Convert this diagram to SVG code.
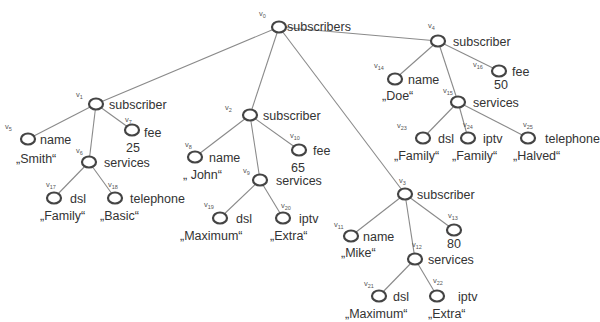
<svg xmlns="http://www.w3.org/2000/svg" width="600" height="322" viewBox="0 0 600 322">
<style>
.e{stroke:#8a8a8a;stroke-width:1.1;fill:none}
.n{fill:#fff;stroke:#444;stroke-width:2.2}
.t{font-family:"Liberation Sans",Arial,sans-serif;font-size:12.5px;fill:#333}
.v{font-family:"Liberation Sans",Arial,sans-serif;font-size:7.5px;fill:#555}
.s{font-size:5.5px}
</style>
<rect width="600" height="322" fill="#fff"/>
<g id="connectors">
<line class="e" x1="279" y1="27" x2="96" y2="104"/>
<line class="e" x1="279" y1="27" x2="250" y2="115"/>
<line class="e" x1="279" y1="27" x2="405" y2="194"/>
<line class="e" x1="279" y1="27" x2="438" y2="41"/>
<line class="e" x1="96" y1="104" x2="28" y2="139"/>
<line class="e" x1="96" y1="104" x2="89" y2="162"/>
<line class="e" x1="96" y1="104" x2="132" y2="130"/>
<line class="e" x1="89" y1="162" x2="54" y2="198"/>
<line class="e" x1="89" y1="162" x2="115" y2="198"/>
<line class="e" x1="250" y1="115" x2="195" y2="157"/>
<line class="e" x1="250" y1="115" x2="260" y2="180"/>
<line class="e" x1="250" y1="115" x2="299" y2="150"/>
<line class="e" x1="260" y1="180" x2="220" y2="218"/>
<line class="e" x1="260" y1="180" x2="283" y2="218"/>
<line class="e" x1="405" y1="194" x2="351" y2="236"/>
<line class="e" x1="405" y1="194" x2="415" y2="259"/>
<line class="e" x1="405" y1="194" x2="454" y2="230"/>
<line class="e" x1="415" y1="259" x2="379" y2="296"/>
<line class="e" x1="415" y1="259" x2="437" y2="296"/>
<line class="e" x1="438" y1="41" x2="395" y2="79"/>
<line class="e" x1="438" y1="41" x2="458" y2="102"/>
<line class="e" x1="438" y1="41" x2="499" y2="71"/>
<line class="e" x1="458" y1="102" x2="423" y2="138"/>
<line class="e" x1="458" y1="102" x2="468" y2="138"/>
<line class="e" x1="458" y1="102" x2="528" y2="138"/>
</g>
<g id="v0"><ellipse class="n" cx="279" cy="27" rx="7" ry="5.5"/><text class="v" x="259" y="16">v<tspan class="s" dy="2">0</tspan></text><text class="t" x="287" y="31">subscribers</text></g>
<g id="v1"><ellipse class="n" cx="96" cy="104" rx="7" ry="5.5"/><text class="v" x="76" y="97">v<tspan class="s" dy="2">1</tspan></text><text class="t" x="109" y="109">subscriber</text></g>
<g id="v2"><ellipse class="n" cx="250" cy="115" rx="7" ry="5.5"/><text class="v" x="225" y="110">v<tspan class="s" dy="2">2</tspan></text><text class="t" x="263" y="120">subscriber</text></g>
<g id="v3"><ellipse class="n" cx="405" cy="194" rx="7" ry="5.5"/><text class="v" x="399" y="183">v<tspan class="s" dy="2">3</tspan></text><text class="t" x="417" y="199">subscriber</text></g>
<g id="v4"><ellipse class="n" cx="438" cy="41" rx="7" ry="5.5"/><text class="v" x="428" y="28">v<tspan class="s" dy="2">4</tspan></text><text class="t" x="453" y="46">subscriber</text></g>
<g id="v5"><ellipse class="n" cx="28" cy="139" rx="7" ry="5.5"/><text class="v" x="5" y="129">v<tspan class="s" dy="2">5</tspan></text><text class="t" x="40" y="144">name</text><text class="t" x="16" y="163">„Smith“</text></g>
<g id="v6"><ellipse class="n" cx="89" cy="162" rx="7" ry="5.5"/><text class="v" x="76" y="153">v<tspan class="s" dy="2">6</tspan></text><text class="t" x="104" y="167">services</text></g>
<g id="v7"><ellipse class="n" cx="132" cy="130" rx="7" ry="5.5"/><text class="v" x="125" y="122">v<tspan class="s" dy="2">7</tspan></text><text class="t" x="144" y="137">fee</text><text class="t" x="126" y="152">25</text></g>
<g id="v8"><ellipse class="n" cx="195" cy="157" rx="7" ry="5.5"/><text class="v" x="185" y="147">v<tspan class="s" dy="2">8</tspan></text><text class="t" x="209" y="162">name</text><text class="t" x="183" y="179">„ John“</text></g>
<g id="v9"><ellipse class="n" cx="260" cy="180" rx="7" ry="5.5"/><text class="v" x="243" y="173">v<tspan class="s" dy="2">9</tspan></text><text class="t" x="276" y="185">services</text></g>
<g id="v10"><ellipse class="n" cx="299" cy="150" rx="7" ry="5.5"/><text class="v" x="290" y="138">v<tspan class="s" dy="2">10</tspan></text><text class="t" x="313" y="155">fee</text><text class="t" x="291" y="172">65</text></g>
<g id="v11"><ellipse class="n" cx="351" cy="236" rx="7" ry="5.5"/><text class="v" x="334" y="227">v<tspan class="s" dy="2">11</tspan></text><text class="t" x="363" y="241">name</text><text class="t" x="341" y="257">„Mike“</text></g>
<g id="v12"><ellipse class="n" cx="415" cy="259" rx="7" ry="5.5"/><text class="v" x="412" y="247">v<tspan class="s" dy="2">12</tspan></text><text class="t" x="428" y="264">services</text></g>
<g id="v13"><ellipse class="n" cx="454" cy="230" rx="7" ry="5.5"/><text class="v" x="448" y="218">v<tspan class="s" dy="2">13</tspan></text><text class="t" x="447" y="248">80</text></g>
<g id="v14"><ellipse class="n" cx="395" cy="79" rx="7" ry="5.5"/><text class="v" x="374" y="68">v<tspan class="s" dy="2">14</tspan></text><text class="t" x="408" y="84">name</text><text class="t" x="382" y="100">„Doe“</text></g>
<g id="v15"><ellipse class="n" cx="458" cy="102" rx="7" ry="5.5"/><text class="v" x="443" y="93">v<tspan class="s" dy="2">15</tspan></text><text class="t" x="473" y="107">services</text></g>
<g id="v16"><ellipse class="n" cx="499" cy="71" rx="7" ry="5.5"/><text class="v" x="473" y="67">v<tspan class="s" dy="2">16</tspan></text><text class="t" x="512" y="76">fee</text><text class="t" x="494" y="89">50</text></g>
<g id="v17"><ellipse class="n" cx="54" cy="198" rx="7" ry="5.5"/><text class="v" x="46" y="187">v<tspan class="s" dy="2">17</tspan></text><text class="t" x="70" y="203">dsl</text><text class="t" x="40" y="220">„Family“</text></g>
<g id="v18"><ellipse class="n" cx="115" cy="198" rx="7" ry="5.5"/><text class="v" x="108" y="187">v<tspan class="s" dy="2">18</tspan></text><text class="t" x="130" y="203">telephone</text><text class="t" x="100" y="220">„Basic“</text></g>
<g id="v19"><ellipse class="n" cx="220" cy="218" rx="7" ry="5.5"/><text class="v" x="204" y="207">v<tspan class="s" dy="2">19</tspan></text><text class="t" x="236" y="223">dsl</text><text class="t" x="180" y="240">„Maximum“</text></g>
<g id="v20"><ellipse class="n" cx="283" cy="218" rx="7" ry="5.5"/><text class="v" x="281" y="208">v<tspan class="s" dy="2">20</tspan></text><text class="t" x="299" y="223">iptv</text><text class="t" x="270" y="240">„Extra“</text></g>
<g id="v21"><ellipse class="n" cx="379" cy="296" rx="7" ry="5.5"/><text class="v" x="364" y="286">v<tspan class="s" dy="2">21</tspan></text><text class="t" x="393" y="301">dsl</text><text class="t" x="345" y="318">„Maximum“</text></g>
<g id="v22"><ellipse class="n" cx="437" cy="296" rx="7" ry="5.5"/><text class="v" x="433" y="283">v<tspan class="s" dy="2">22</tspan></text><text class="t" x="458" y="301">iptv</text><text class="t" x="428" y="318">„Extra“</text></g>
<g id="v23"><ellipse class="n" cx="423" cy="138" rx="7" ry="5.5"/><text class="v" x="397" y="128">v<tspan class="s" dy="2">23</tspan></text><text class="t" x="438" y="143">dsl</text><text class="t" x="394" y="160">„Family“</text></g>
<g id="v24"><ellipse class="n" cx="468" cy="138" rx="7" ry="5.5"/><text class="v" x="463" y="127">v<tspan class="s" dy="2">24</tspan></text><text class="t" x="483" y="143">iptv</text><text class="t" x="452" y="160">„Family“</text></g>
<g id="v25"><ellipse class="n" cx="528" cy="138" rx="7" ry="5.5"/><text class="v" x="523" y="127">v<tspan class="s" dy="2">25</tspan></text><text class="t" x="545" y="143">telephone</text><text class="t" x="513" y="160">„Halved“</text></g>
</svg>
